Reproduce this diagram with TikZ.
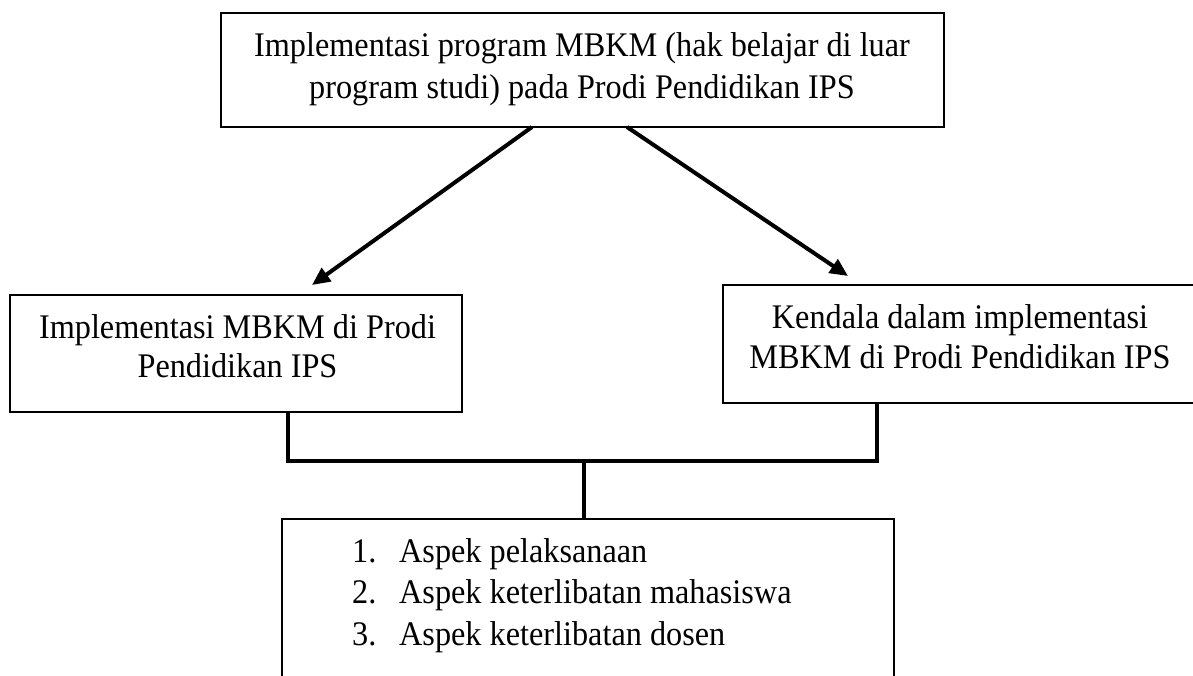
\documentclass[tikz,border=0pt]{standalone}
\usepackage{fontspec}
\setmainfont{Liberation Serif}[FakeStretch=0.935]
\usetikzlibrary{arrows.meta}
\begin{document}
\begin{tikzpicture}[x=1pt,y=-1pt,
  box/.style={draw, line width=2.6pt, rectangle, inner sep=0pt},
  txt/.style={anchor=base, inner sep=0pt, font=\fontsize{34.5}{40}\selectfont},
  lst/.style={anchor=base west, inner sep=0pt, font=\fontsize{34.5}{40}\selectfont},
  arr/.style={line width=4pt, -{Triangle[length=18pt,width=16pt]}},
  conn/.style={line width=3.4pt, line cap=rect, line join=miter}]
\fill[white] (0,0) rectangle (1193,675);
\useasboundingbox (0,0) rectangle (1193,675);
% boxes
\node[box, minimum width=723pt, minimum height=114pt] (tb) at (582.5,70) {};
\node[box, minimum width=452pt, minimum height=117pt] (lb) at (236,353.5) {};
\node[box, minimum width=477pt, minimum height=118pt] (rb) at (961.5,344) {};
\node[box, minimum width=612pt, minimum height=201pt] (bb) at (588,619.5) {};
% texts
\node[txt] (t1) at (582,56) {Implementasi program MBKM (hak belajar di luar};
\node[txt] (t2) at (582,98) {program studi) pada Prodi Pendidikan IPS};
\node[txt] (l1) at (237.5,338) {Implementasi MBKM di Prodi};
\node[txt] (l2) at (237.5,377) {Pendidikan IPS};
\node[txt] (r1) at (960,328) {Kendala dalam implementasi};
\node[txt] (r2) at (960,368) {MBKM di Prodi Pendidikan IPS};
\node[lst] (n1) at (352,562) {1.};
\node[lst] (n2) at (352,603) {2.};
\node[lst] (n3) at (352,645) {3.};
\node[lst] (b1) at (399,562) {Aspek pelaksanaan};
\node[lst] (b2) at (399,603) {Aspek keterlibatan mahasiswa};
\node[lst] (b3) at (399,645) {Aspek keterlibatan dosen};
% arrows
\coordinate (as1) at (532,127);
\coordinate (at1) at (312,285);
\coordinate (as2) at (627,127);
\coordinate (at2) at (848,276);
\draw[arr] (as1) -- (at1);
\draw[arr] (as2) -- (at2);
% connector
\coordinate (jl) at (288,461);
\coordinate (jr) at (877,461);
\coordinate (jm) at (584,461);
\draw[conn] (lb.south -| jl) -- (jl) -- (jr) -- (rb.south -| jr);
\draw[line width=3.4pt] (jm) -- (bb.north -| jm);
\end{tikzpicture}
\end{document}
